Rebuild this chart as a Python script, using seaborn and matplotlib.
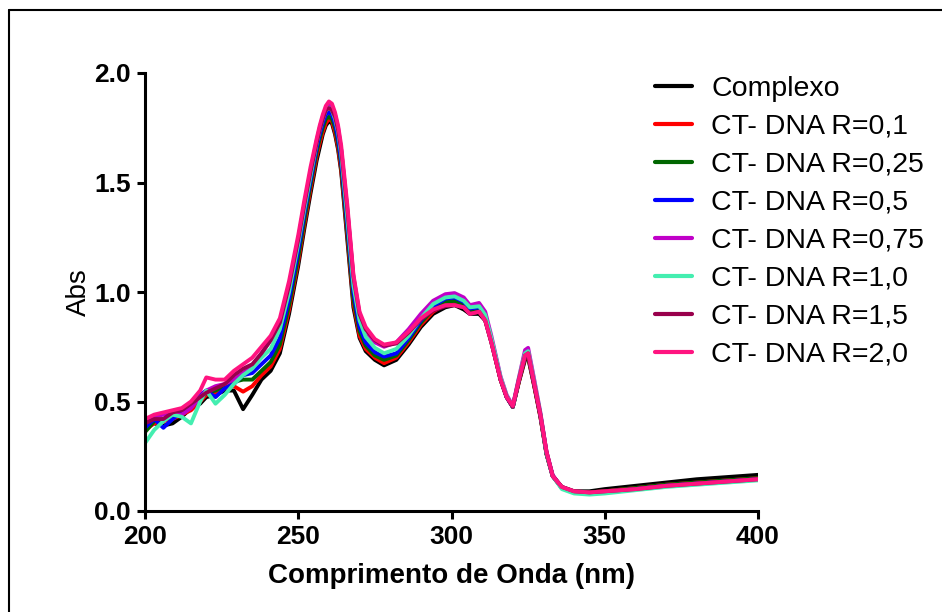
import pandas as pd
import matplotlib.pyplot as plt
import seaborn as sns
from matplotlib.lines import Line2D

# wavelength grid (nm)
nm = [200, 203, 206, 209, 212, 215, 218, 220, 223, 226,
      229, 232, 235, 238, 241, 244, 247, 250, 252, 254,
      256, 257, 258, 259, 260, 261, 262, 263, 264, 266,
      268, 270, 272, 275, 278, 282, 286, 290, 294, 298,
      301, 304, 306, 309, 311, 313, 316, 318, 320, 322,
      324, 325, 327, 329, 331, 333, 336, 340, 345, 350,
      360, 370, 380, 390, 400]

complexo = [0.39, 0.40, 0.39, 0.40, 0.43, 0.47, 0.49, 0.52, 0.53, 0.55,
            0.55, 0.465, 0.53, 0.60, 0.64, 0.72, 0.90, 1.12, 1.29, 1.45,
            1.60, 1.66, 1.72, 1.76, 1.78, 1.77, 1.72, 1.65, 1.55, 1.24,
            0.93, 0.79, 0.73, 0.69, 0.665, 0.69, 0.76, 0.84, 0.90, 0.93,
            0.94, 0.92, 0.90, 0.90, 0.87, 0.77, 0.60, 0.52, 0.475, 0.59,
            0.69, 0.70, 0.57, 0.43, 0.26, 0.16, 0.11, 0.09, 0.09, 0.10,
            0.115, 0.13, 0.145, 0.155, 0.165]
r_01 = [0.37, 0.40, 0.41, 0.42, 0.44, 0.46, 0.50, 0.53, 0.54, 0.56,
        0.57, 0.545, 0.57, 0.62, 0.66, 0.74, 0.92, 1.14, 1.31, 1.47,
        1.62, 1.68, 1.73, 1.77, 1.79, 1.78, 1.73, 1.66, 1.56, 1.26,
        0.95, 0.80, 0.74, 0.70, 0.675, 0.70, 0.77, 0.85, 0.91, 0.945,
        0.95, 0.93, 0.905, 0.91, 0.875, 0.775, 0.60, 0.52, 0.475, 0.59,
        0.70, 0.705, 0.57, 0.43, 0.26, 0.16, 0.105, 0.085, 0.085, 0.09,
        0.105, 0.12, 0.13, 0.14, 0.15]
r_025 = [0.36, 0.41, 0.42, 0.43, 0.45, 0.48, 0.51, 0.54, 0.55, 0.57,
         0.59, 0.60, 0.60, 0.64, 0.68, 0.76, 0.94, 1.16, 1.33, 1.49,
         1.64, 1.70, 1.75, 1.79, 1.80, 1.79, 1.75, 1.68, 1.58, 1.28,
         0.97, 0.82, 0.755, 0.71, 0.69, 0.71, 0.78, 0.86, 0.92, 0.955,
         0.96, 0.94, 0.91, 0.915, 0.88, 0.78, 0.60, 0.52, 0.475, 0.595,
         0.705, 0.71, 0.575, 0.435, 0.26, 0.16, 0.105, 0.085, 0.085, 0.09,
         0.105, 0.12, 0.13, 0.14, 0.15]
r_05 = [0.38, 0.42, 0.38, 0.42, 0.45, 0.49, 0.53, 0.55, 0.52, 0.56,
        0.58, 0.62, 0.63, 0.67, 0.71, 0.79, 0.97, 1.19, 1.36, 1.51,
        1.66, 1.72, 1.77, 1.81, 1.82, 1.81, 1.77, 1.70, 1.60, 1.31,
        1.00, 0.84, 0.77, 0.725, 0.705, 0.72, 0.79, 0.87, 0.935, 0.97,
        0.975, 0.955, 0.925, 0.93, 0.89, 0.785, 0.605, 0.52, 0.475, 0.60,
        0.71, 0.72, 0.58, 0.44, 0.265, 0.16, 0.105, 0.085, 0.08, 0.085,
        0.10, 0.115, 0.125, 0.135, 0.145]
r_075 = [0.40, 0.43, 0.44, 0.44, 0.44, 0.47, 0.52, 0.55, 0.57, 0.58,
         0.60, 0.63, 0.66, 0.72, 0.78, 0.86, 1.03, 1.24, 1.40, 1.55,
         1.69, 1.75, 1.80, 1.84, 1.86, 1.85, 1.81, 1.75, 1.65, 1.37,
         1.06, 0.89, 0.82, 0.77, 0.75, 0.77, 0.83, 0.90, 0.96, 0.99,
         0.995, 0.975, 0.94, 0.95, 0.91, 0.80, 0.615, 0.53, 0.48, 0.61,
         0.735, 0.745, 0.60, 0.45, 0.27, 0.165, 0.105, 0.085, 0.08, 0.085,
         0.10, 0.115, 0.125, 0.135, 0.145]
r_10 = [0.31, 0.37, 0.41, 0.44, 0.43, 0.40, 0.50, 0.55, 0.49, 0.53,
        0.58, 0.62, 0.65, 0.70, 0.74, 0.83, 1.00, 1.22, 1.38, 1.53,
        1.68, 1.74, 1.79, 1.83, 1.84, 1.83, 1.79, 1.73, 1.63, 1.34,
        1.03, 0.87, 0.795, 0.745, 0.72, 0.74, 0.80, 0.88, 0.945, 0.975,
        0.98, 0.96, 0.93, 0.935, 0.895, 0.79, 0.61, 0.525, 0.475, 0.605,
        0.72, 0.73, 0.59, 0.445, 0.265, 0.16, 0.10, 0.08, 0.075, 0.08,
        0.095, 0.11, 0.12, 0.13, 0.14]
r_15 = [0.40, 0.42, 0.42, 0.45, 0.46, 0.49, 0.52, 0.54, 0.56, 0.58,
        0.62, 0.65, 0.67, 0.72, 0.78, 0.86, 1.03, 1.24, 1.40, 1.55,
        1.68, 1.74, 1.79, 1.83, 1.84, 1.83, 1.80, 1.74, 1.65, 1.38,
        1.07, 0.90, 0.83, 0.78, 0.755, 0.765, 0.815, 0.875, 0.915, 0.935,
        0.94, 0.93, 0.90, 0.91, 0.87, 0.77, 0.60, 0.52, 0.475, 0.60,
        0.71, 0.72, 0.58, 0.44, 0.27, 0.16, 0.11, 0.09, 0.085, 0.09,
        0.10, 0.115, 0.125, 0.135, 0.145]
r_20 = [0.42, 0.44, 0.45, 0.46, 0.47, 0.50, 0.55, 0.61, 0.60, 0.60,
        0.64, 0.67, 0.70, 0.75, 0.80, 0.88, 1.05, 1.26, 1.42, 1.57,
        1.70, 1.76, 1.81, 1.85, 1.87, 1.86, 1.82, 1.76, 1.67, 1.40,
        1.08, 0.91, 0.84, 0.785, 0.76, 0.77, 0.82, 0.88, 0.92, 0.94,
        0.94, 0.93, 0.90, 0.91, 0.87, 0.77, 0.60, 0.52, 0.48, 0.60,
        0.71, 0.72, 0.58, 0.44, 0.27, 0.16, 0.11, 0.09, 0.085, 0.09,
        0.10, 0.115, 0.125, 0.135, 0.145]

labels = ["Complexo", "CT- DNA R=0,1", "CT- DNA R=0,25", "CT- DNA R=0,5",
          "CT- DNA R=0,75", "CT- DNA R=1,0", "CT- DNA R=1,5", "CT- DNA R=2,0"]
colors = ["#000000", "#FF0000", "#006600", "#0000FF", "#C000C8", "#44EEB0", "#99004C", "#FF1480"]
series = [complexo, r_01, r_025, r_05, r_075, r_10, r_15, r_20]

# long format table for seaborn
frames = []
for lab, vals in zip(labels, series):
    frames.append(pd.DataFrame({'nm': nm, 'abs': vals, 'serie': lab}))
df = pd.concat(frames, ignore_index=True)

sns.set_style("ticks")
plt.rcParams['font.family'] = ['Liberation Sans', 'DejaVu Sans']
plt.rcParams['text.color'] = 'black'
plt.rcParams['axes.labelcolor'] = 'black'
plt.rcParams['xtick.color'] = 'black'
plt.rcParams['ytick.color'] = 'black'
plt.rcParams['axes.edgecolor'] = 'black'
narrow = ['Liberation Sans Narrow', 'Liberation Sans', 'DejaVu Sans']

fig = plt.figure(figsize=(9.42, 6.12), dpi=100)
ax = fig.add_axes([145/942, 1 - 511/612, (758 - 145)/942, (511 - 73)/612])

sns.lineplot(data=df, x='nm', y='abs', hue='serie', hue_order=labels,
             palette=colors, linewidth=2.8, sort=False, estimator=None, ax=ax)

ax.set_xlim(200, 400)
ax.set_ylim(0, 2.0)
ax.set_xticks([200, 250, 300, 350, 400])
ax.set_yticks([0.0, 0.5, 1.0, 1.5, 2.0])
ax.set_yticklabels(["0.0", "0.5", "1.0", "1.5", "2.0"])
for t in ax.get_xticklabels() + ax.get_yticklabels():
    t.set_family(narrow)
    t.set_fontweight('bold')
    t.set_fontsize(19)
ax.tick_params(width=2.2, length=6, pad=4, color='black', labelcolor='black')

ax.set_xlabel("Comprimento de Onda (nm)", family=narrow, fontweight='bold', fontsize=20, labelpad=10)
ax.set_ylabel("Abs", fontsize=20, labelpad=2)

sns.despine(ax=ax)
for s in ['left', 'bottom']:
    ax.spines[s].set_linewidth(2.2)

handles = [Line2D([0], [0], color=c, lw=3) for c in colors]
ax.legend(handles, labels, loc='upper left', bbox_to_anchor=(655/942, 1 - 76/612),
          bbox_transform=fig.transFigure, frameon=False, fontsize=20.5, borderpad=0,
          borderaxespad=0, handlelength=1.3, handletextpad=0.68, labelspacing=0.42)

# outer frame (top and left edges only visible)
fig.add_artist(Line2D([9/942, 9/942], [0, 1 - 10/612], color='black', lw=1.5, transform=fig.transFigure))
fig.add_artist(Line2D([9/942, 1], [1 - 10/612, 1 - 10/612], color='black', lw=1.5, transform=fig.transFigure))

fig.savefig("out.png", dpi=100)
